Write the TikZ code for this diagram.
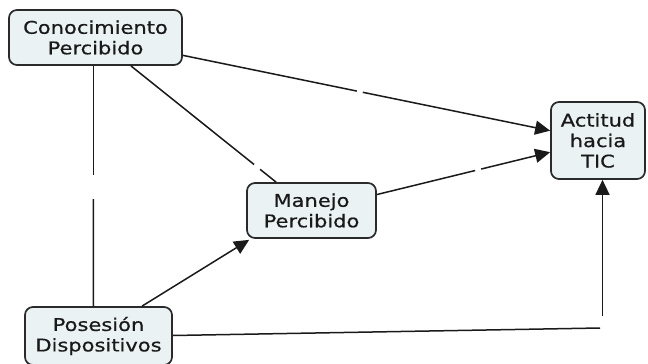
\documentclass[tikz,border=0pt]{standalone}
\usepackage{fontspec}
\setmainfont{DejaVu Sans}[FakeStretch=1.2,FakeBold=0.6]
\usetikzlibrary{arrows.meta,calc}
\definecolor{boxfill}{HTML}{EAF2F4}
\definecolor{boxdraw}{HTML}{2A2A2A}
\definecolor{linecol}{HTML}{1A1A1A}
\tikzset{
  conceptbox/.style={draw=boxdraw, line width=1.7pt, fill=boxfill, rounded corners=8pt,
    align=center, inner sep=0pt, text=black!90, font=\fontsize{17.5}{20.5}\selectfont},
  link/.style={draw=linecol, line width=1.5pt},
  arr/.style={link, -{Triangle[length=15pt,width=14pt]}}
}
\begin{document}
\begin{tikzpicture}[x=1pt,y=-1pt]
\useasboundingbox (0,0) rectangle (648,364);
\fill[white] (0,0) rectangle (648,364);

\node[conceptbox, minimum width=173pt, minimum height=55pt] (con) at (95.5,37.5) {Conocimiento\\Percibido};
\node[conceptbox, minimum width=94pt, minimum height=77pt] (act) at (598,140.5) {Actitud\\hacia\\TIC};
\node[conceptbox, minimum width=129pt, minimum height=55pt] (man) at (311.5,210.5) {Manejo\\Percibido};
\node[conceptbox, minimum width=147pt, minimum height=58pt] (pos) at (98.5,336) {Posesión\\Dispositivos};

% gap coordinates
\coordinate (ca1) at ($(con)!0.520!(act)$);
\coordinate (ca2) at ($(con)!0.532!(act)$);
\coordinate (ma1) at ($(man)!0.571!(act)$);
\coordinate (ma2) at ($(man)!0.592!(act)$);
\coordinate (cm1) at ($(con)!0.734!(man)$);
\coordinate (cm2) at ($(con)!0.762!(man)$);
\coordinate (cp1) at (93.5,175);
\coordinate (cp2) at (93.3,199);
\coordinate (pa1) at (600,328);
\coordinate (pa2) at (602.5,316);

% Conocimiento -> Actitud
\draw[link] (con) -- (ca1);
\draw[arr] (ca2) -- (act);
% Manejo -> Actitud
\draw[link] (man) -- (ma1);
\draw[arr] (ma2) -- (act);
% Conocimiento -- Manejo
\draw[link] (con) -- (cm1);
\draw[link] (cm2) -- (man);
% Conocimiento -- Posesion
\draw[link] ([xshift=-2pt]con.south) -- (cp1);
\draw[link] (cp2) -- ([xshift=-5pt]pos.north);
% Posesion -> Manejo
\draw[arr] ([xshift=43.5pt]pos.north) -- ([xshift=3pt,yshift=-1pt]man.south west);
% Posesion -> Actitud
\draw[link] ([yshift=0.5pt]pos.east) -- (pa1);
\draw[arr] (pa2) -- ([xshift=4.5pt]act.south);
\end{tikzpicture}
\end{document}
